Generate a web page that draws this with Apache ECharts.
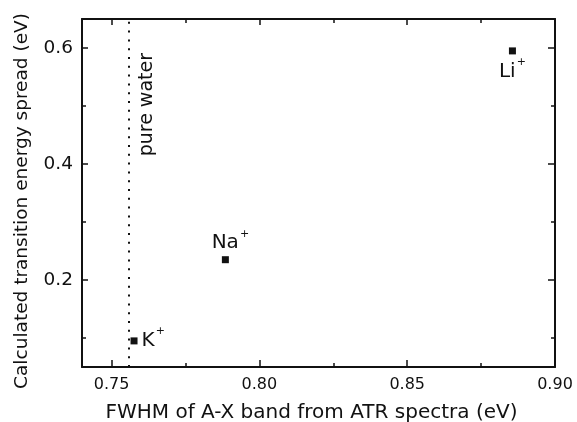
<!DOCTYPE html>
<html>
<head>
<meta charset="utf-8">
<script src="https://cdn.jsdelivr.net/npm/echarts@6/dist/echarts.min.js"></script>
<style>
  html, body { margin: 0; padding: 0; background: #fff; }
  #chart { width: 577px; height: 422px; }
</style>
</head>
<body>
<div id="chart"></div>
<script>
// values
const ions = ['K', 'Na', 'Li'];
const fwhm = [0.7576, 0.7885, 0.8856];
const spread = [0.095, 0.235, 0.595];
const pureWater = 0.7557;

const xMajor = [0.75, 0.80, 0.85, 0.90];
const xMinor = [0.775, 0.825, 0.875];
const yMajor = [0.2, 0.4, 0.6];
const yMinor = [0.1, 0.3, 0.5];

const font = 'DejaVu Sans';
const ink = '#111';

// where each ion label sits round its marker
const labelPos = {
  K: { position: 'right', distance: 4, offset: [0, 0] },
  Na: { position: 'top', distance: -2, offset: [5, 0] },
  Li: { position: 'bottom', distance: 2, offset: [0, 0] }
};

const gridBox = { left: 82, right: 22, top: 19, bottom: 55, outerBoundsMode: 'none', containLabel: false };

const xAx = (grid, pos, ticks, len, withLabels) => ({
  type: 'value',
  gridIndex: grid,
  position: pos,
  min: 0.74,
  max: 0.90,
  axisLine: { show: grid === 0, onZero: false, lineStyle: { color: ink, width: 2 } },
  axisTick: { show: true, inside: true, length: len, customValues: ticks, lineStyle: { color: ink, width: 1.5 } },
  axisLabel: withLabels ? {
    customValues: ticks,
    margin: 10,
    fontSize: 16,
    fontFamily: font,
    color: ink,
    formatter: (v) => v.toFixed(2)
  } : { show: false },
  splitLine: { show: false }
});

const yAx = (grid, pos, ticks, len, withLabels) => ({
  type: 'value',
  gridIndex: grid,
  position: pos,
  min: 0.05,
  max: 0.65,
  axisLine: { show: grid === 0, onZero: false, lineStyle: { color: ink, width: 2 } },
  axisTick: { show: true, inside: true, length: len, customValues: ticks, lineStyle: { color: ink, width: 1.5 } },
  axisLabel: withLabels ? {
    customValues: ticks,
    margin: 9,
    fontSize: 18.5,
    fontFamily: font,
    color: ink,
    formatter: (v) => v.toFixed(1)
  } : { show: false },
  splitLine: { show: false }
});

const xAxes = [
  xAx(0, 'bottom', xMajor, 7, true),
  xAx(0, 'top', xMajor, 6, false),
  xAx(1, 'bottom', xMinor, 4, false),
  xAx(1, 'top', xMinor, 4, false)
];
xAxes[0].name = 'FWHM of A-X band from ATR spectra (eV)';
xAxes[0].nameLocation = 'middle';
xAxes[0].nameGap = 36;
xAxes[0].nameTextStyle = { fontSize: 20, fontFamily: font, color: ink, padding: [0, 14, 0, 0] };

const yAxes = [
  yAx(0, 'left', yMajor, 6, true),
  yAx(0, 'right', yMajor, 7, false),
  yAx(1, 'left', yMinor, 4, false),
  yAx(1, 'right', yMinor, 4, false)
];
yAxes[0].name = 'Calculated transition energy spread (eV)';
yAxes[0].nameLocation = 'middle';
yAxes[0].nameGap = 50;
yAxes[0].nameTextStyle = { fontSize: 18.5, fontFamily: font, color: ink, padding: [0, 16, 0, 0] };

const points = ions.map((name, i) => ({
  name: name,
  value: [fwhm[i], spread[i]],
  label: Object.assign({ show: true }, labelPos[name])
}));

const chart = echarts.init(document.getElementById('chart'), null, { renderer: 'canvas' });

const option = {
  animation: false,
  backgroundColor: '#fff',
  grid: [Object.assign({}, gridBox), Object.assign({}, gridBox)],
  xAxis: xAxes,
  yAxis: yAxes,
  series: [
    {
      type: 'scatter',
      xAxisIndex: 0,
      yAxisIndex: 0,
      symbol: 'rect',
      symbolSize: 7,
      itemStyle: { color: ink, opacity: 1 },
      emphasis: { disabled: true },
      label: {
        color: ink,
        formatter: (p) => '{m|' + p.name + '}{s|+}',
        rich: {
          m: { fontSize: 20, lineHeight: 30, fontFamily: font, color: ink },
          s: { fontSize: 11, lineHeight: 4, fontFamily: font, color: ink, verticalAlign: 'top', padding: [0, 0, 0, 1] }
        }
      },
      data: points,
      markLine: {
        silent: true,
        symbol: 'none',
        precision: 4,
        animation: false,
        emphasis: { disabled: true },
        lineStyle: { type: [2, 6.8], width: 2, color: ink, opacity: 1 },
        label: {
          show: true,
          formatter: 'pure water',
          position: 'insideEndBottom',
          distance: [34, 9],
          fontSize: 19,
          fontFamily: font,
          color: ink
        },
        data: [{ xAxis: pureWater }]
      }
    }
  ]
};

chart.setOption(option);
</script>
</body>
</html>
